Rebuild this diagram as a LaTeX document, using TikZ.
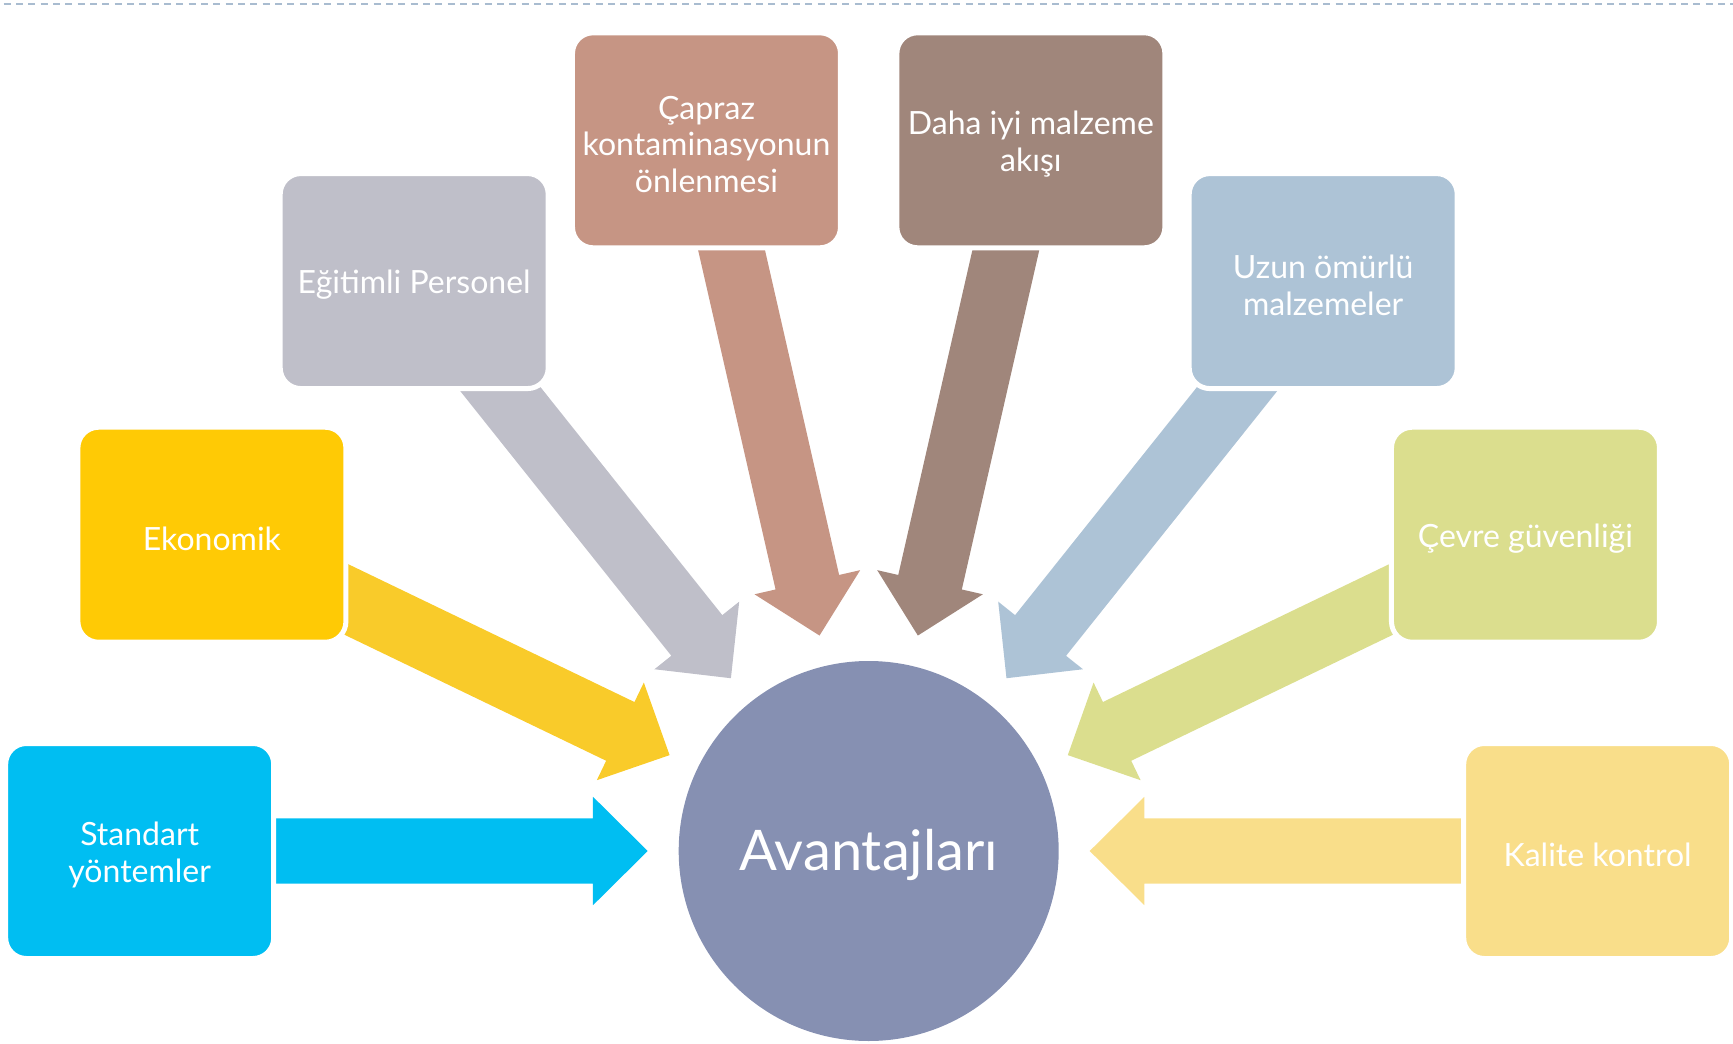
\documentclass[tikz,border=0pt]{standalone}
\usepackage{fontspec}
\setmainfont{Lato}
\definecolor{cStd}{HTML}{00BEF2}
\definecolor{cEkoBox}{HTML}{FFCA05}
\definecolor{cEkoArr}{HTML}{F9CB2A}
\definecolor{cEgi}{HTML}{BFBFC9}
\definecolor{cCap}{HTML}{C69584}
\definecolor{cDah}{HTML}{A0867B}
\definecolor{cUzu}{HTML}{ADC3D6}
\definecolor{cCev}{HTML}{DBDE8E}
\definecolor{cKal}{HTML}{F9DE8A}
\definecolor{cCirc}{HTML}{8690B2}
\definecolor{cDash}{HTML}{A9BCD0}
\begin{document}
\begin{tikzpicture}[x=0.75pt,y=0.75pt,
  box/.style={rectangle, rounded corners=15.5pt, minimum width=201pt, minimum height=161.25pt,
    draw=white, line width=3.75pt, inner sep=0pt},
  lbl/.style={text=white, align=center, inner sep=0pt, yshift=-3pt,
    font=\fontsize{24}{27.5}\selectfont},
  hub/.style={circle, minimum size=285pt, fill=cCirc, text=white, inner sep=0pt,
    font=\fontsize{42}{46}\selectfont},
  topline/.style={draw=cDash, line width=1.5pt, dash pattern=on 5.25pt off 4pt}]
\useasboundingbox (-868.7,-192) rectangle (864.3,851);
\coordinate (dl) at (-865,847);
\coordinate (dr) at (864.3,847);
\draw[topline] (dl) -- (dr);
% block arrows (tails run under the boxes)
\foreach \k/\col in {0/cStd,1/cEkoArr,2/cEgi,3/cCap,4/cDah,5/cUzu,6/cCev,7/cKal}{
  \begin{scope}[rotate={180-\k*180/7}]
    \fill[\col] (221,0) -- (275.7,54.2) -- (275.7,32.6) -- (690,32.6) -- (690,-32.6)
      -- (275.7,-32.6) -- (275.7,-54.2) -- cycle;
  \end{scope}
}
% boxes
\node[box, fill=cStd]    (std) at ({180}:729) {};
\node[box, fill=cEkoBox] (eko) at ({180-180/7}:729) {};
\node[box, fill=cEgi]    (egi) at ({180-2*180/7}:729) {};
\node[box, fill=cCap]    (cap) at ({180-3*180/7}:729) {};
\node[box, fill=cDah]    (dah) at ({180-4*180/7}:729) {};
\node[box, fill=cUzu]    (uzu) at ({180-5*180/7}:729) {};
\node[box, fill=cCev]    (cev) at ({180-6*180/7}:729) {};
\node[box, fill=cKal]    (kal) at ({0}:729) {};
% box texts
\node[lbl] (stdT) at (std.center) {Standart\\yöntemler};
\node[lbl] (ekoT) at (eko.center) {Ekonomik};
\node[lbl] (egiT) at (egi.center) {Eğitimli Personel};
\node[lbl] (capT) at (cap.center) {Çapraz\\kontaminasyonun\\önlenmesi};
\node[lbl] (dahT) at (dah.center) {Daha iyi malzeme\\akışı};
\node[lbl] (uzuT) at (uzu.center) {Uzun ömürlü\\malzemeler};
\node[lbl] (cevT) at (cev.center) {Çevre güvenliği};
\node[lbl] (kalT) at (kal.center) {Kalite kontrol};
% hub
\node[hub] (hub) at (0,0) {};
\node[text=white, inner sep=0pt, yshift=-3pt, font=\fontsize{42}{46}\selectfont] (hubT) at (hub.center) {Avantajları};
\end{tikzpicture}
\end{document}
